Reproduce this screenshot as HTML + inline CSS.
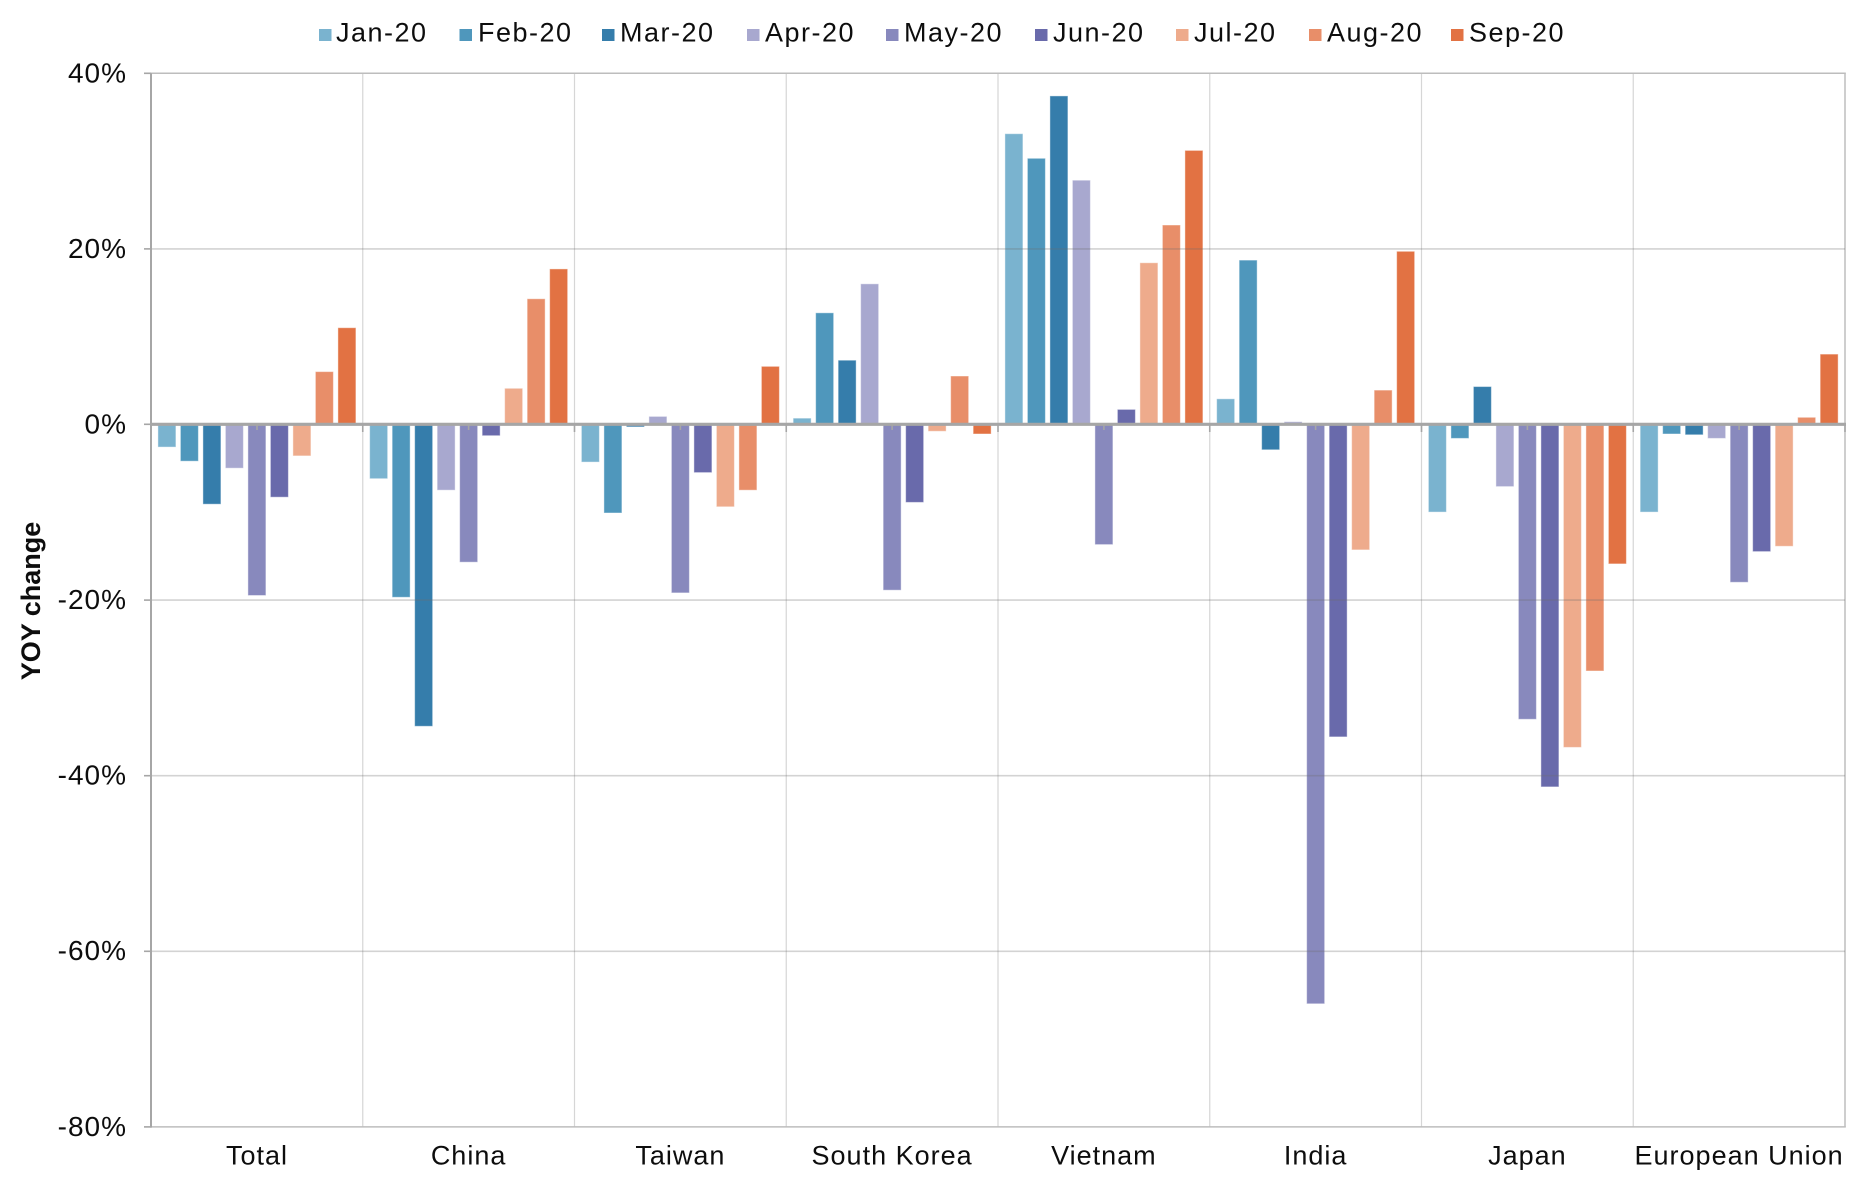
<!DOCTYPE html>
<html>
<head>
<meta charset="utf-8">
<style>
  html, body { margin:0; padding:0; background:#ffffff; }
  body { width:1870px; height:1188px; overflow:hidden; }
  svg { display:block; }
  text { font-family:"Liberation Sans", Arial, sans-serif; fill:#0d0d0d; }
  .lg { font-size:27px; letter-spacing:1.5px; }
  .yt { font-size:28px; letter-spacing:1px; }
  .xt { font-size:27px; letter-spacing:1px; }
  .ttl { font-size:27px; font-weight:bold; }
  rect.b { stroke:rgba(255,255,255,0.45); stroke-width:1; }
</style>
</head>
<body>
<svg width="1870" height="1188" viewBox="0 0 1870 1188" xmlns="http://www.w3.org/2000/svg">
  <rect x="0" y="0" width="1870" height="1188" fill="#ffffff"/>

  <!-- Legend -->
  <g>
    <rect x="319" y="29" width="12.5" height="12" fill="#7ab3cf"/><text class="lg" x="336" y="41.7">Jan-20</text>
    <rect x="459.5" y="29" width="12.5" height="12" fill="#4f97bc"/><text class="lg" x="478" y="41.7">Feb-20</text>
    <rect x="602" y="29" width="12.5" height="12" fill="#357dab"/><text class="lg" x="620" y="41.7">Mar-20</text>
    <rect x="747" y="29" width="12.5" height="12" fill="#a8a8cf"/><text class="lg" x="765" y="41.7">Apr-20</text>
    <rect x="886" y="29" width="12.5" height="12" fill="#8889bd"/><text class="lg" x="904" y="41.7">May-20</text>
    <rect x="1035" y="29" width="12.5" height="12" fill="#696aab"/><text class="lg" x="1053" y="41.7">Jun-20</text>
    <rect x="1176" y="29" width="12.5" height="12" fill="#eeab8c"/><text class="lg" x="1194" y="41.7">Jul-20</text>
    <rect x="1309" y="29" width="12.5" height="12" fill="#e88e69"/><text class="lg" x="1327" y="41.7">Aug-20</text>
    <rect x="1451" y="29" width="12.5" height="12" fill="#e27243"/><text class="lg" x="1469" y="41.7">Sep-20</text>
  </g>

  <!-- Vertical category gridlines -->
  <g stroke="#d6d6d6" stroke-width="1.2">
    <line x1="362.75" y1="73.3" x2="362.75" y2="1126.9"/>
    <line x1="574.5" y1="73.3" x2="574.5" y2="1126.9"/>
    <line x1="786.25" y1="73.3" x2="786.25" y2="1126.9"/>
    <line x1="998" y1="73.3" x2="998" y2="1126.9"/>
    <line x1="1209.75" y1="73.3" x2="1209.75" y2="1126.9"/>
    <line x1="1421.5" y1="73.3" x2="1421.5" y2="1126.9"/>
    <line x1="1633.25" y1="73.3" x2="1633.25" y2="1126.9"/>
  </g>
  <line x1="1845" y1="73.3" x2="1845" y2="1126.9" stroke="#bdbdbd" stroke-width="1.5"/>

  <!-- Bars -->
  <g>
    <!-- Total -->
    <rect class="b" x="157.9" y="424.3" width="18" height="22.8" fill="#7ab3cf"/>
    <rect class="b" x="180.4" y="424.3" width="18" height="36.9" fill="#4f97bc"/>
    <rect class="b" x="202.9" y="424.3" width="18" height="79.9" fill="#357dab"/>
    <rect class="b" x="225.4" y="424.3" width="18" height="43.9" fill="#a8a8cf"/>
    <rect class="b" x="247.9" y="424.3" width="18" height="171.2" fill="#8889bd"/>
    <rect class="b" x="270.4" y="424.3" width="18" height="72.9" fill="#696aab"/>
    <rect class="b" x="292.9" y="424.3" width="18" height="31.6" fill="#eeab8c"/>
    <rect class="b" x="315.4" y="371.6" width="18" height="52.7" fill="#e88e69"/>
    <rect class="b" x="337.9" y="327.7" width="18" height="96.6" fill="#e27243"/>
    <!-- China -->
    <rect class="b" x="369.65" y="424.3" width="18" height="54.4" fill="#7ab3cf"/>
    <rect class="b" x="392.15" y="424.3" width="18" height="173.0" fill="#4f97bc"/>
    <rect class="b" x="414.65" y="424.3" width="18" height="302.0" fill="#357dab"/>
    <rect class="b" x="437.15" y="424.3" width="18" height="65.9" fill="#a8a8cf"/>
    <rect class="b" x="459.65" y="424.3" width="18" height="137.9" fill="#8889bd"/>
    <rect class="b" x="482.15" y="424.3" width="18" height="11.4" fill="#696aab"/>
    <rect class="b" x="504.65" y="388.3" width="18" height="36.0" fill="#eeab8c"/>
    <rect class="b" x="527.15" y="298.75" width="18" height="125.55" fill="#e88e69"/>
    <rect class="b" x="549.65" y="268.9" width="18" height="155.4" fill="#e27243"/>
    <!-- Taiwan -->
    <rect class="b" x="581.4" y="424.3" width="18" height="37.8" fill="#7ab3cf"/>
    <rect class="b" x="603.9" y="424.3" width="18" height="88.7" fill="#4f97bc"/>
    <rect class="b" x="626.4" y="424.3" width="18" height="2.6" fill="#357dab"/>
    <rect class="b" x="648.9" y="416.4" width="18" height="7.9" fill="#a8a8cf"/>
    <rect class="b" x="671.4" y="424.3" width="18" height="168.6" fill="#8889bd"/>
    <rect class="b" x="693.9" y="424.3" width="18" height="48.3" fill="#696aab"/>
    <rect class="b" x="716.4" y="424.3" width="18" height="82.5" fill="#eeab8c"/>
    <rect class="b" x="738.9" y="424.3" width="18" height="65.9" fill="#e88e69"/>
    <rect class="b" x="761.4" y="366.35" width="18" height="57.95" fill="#e27243"/>
    <!-- South Korea -->
    <rect class="b" x="793.15" y="418.15" width="18" height="6.15" fill="#7ab3cf"/>
    <rect class="b" x="815.65" y="312.8" width="18" height="111.5" fill="#4f97bc"/>
    <rect class="b" x="838.15" y="360.2" width="18" height="64.1" fill="#357dab"/>
    <rect class="b" x="860.65" y="283.8" width="18" height="140.5" fill="#a8a8cf"/>
    <rect class="b" x="883.15" y="424.3" width="18" height="165.9" fill="#8889bd"/>
    <rect class="b" x="905.65" y="424.3" width="18" height="78.1" fill="#696aab"/>
    <rect class="b" x="928.15" y="424.3" width="18" height="7.0" fill="#eeab8c"/>
    <rect class="b" x="950.65" y="376.0" width="18" height="48.3" fill="#e88e69"/>
    <rect class="b" x="973.15" y="424.3" width="18" height="9.7" fill="#e27243"/>
    <!-- Vietnam -->
    <rect class="b" x="1004.9" y="133.7" width="18" height="290.6" fill="#7ab3cf"/>
    <rect class="b" x="1027.4" y="158.3" width="18" height="266.0" fill="#4f97bc"/>
    <rect class="b" x="1049.9" y="95.9" width="18" height="328.4" fill="#357dab"/>
    <rect class="b" x="1072.4" y="180.2" width="18" height="244.1" fill="#a8a8cf"/>
    <rect class="b" x="1094.9" y="424.3" width="18" height="120.3" fill="#8889bd"/>
    <rect class="b" x="1117.4" y="409.4" width="18" height="14.9" fill="#696aab"/>
    <rect class="b" x="1139.9" y="262.75" width="18" height="161.55" fill="#eeab8c"/>
    <rect class="b" x="1162.4" y="225.0" width="18" height="199.3" fill="#e88e69"/>
    <rect class="b" x="1184.9" y="150.4" width="18" height="273.9" fill="#e27243"/>
    <!-- India -->
    <rect class="b" x="1216.65" y="398.8" width="18" height="25.5" fill="#7ab3cf"/>
    <rect class="b" x="1239.15" y="260.1" width="18" height="164.2" fill="#4f97bc"/>
    <rect class="b" x="1261.65" y="424.3" width="18" height="25.5" fill="#357dab"/>
    <rect class="b" x="1284.15" y="421.7" width="18" height="2.6" fill="#a8a8cf"/>
    <rect class="b" x="1306.65" y="424.3" width="18" height="579.5" fill="#8889bd"/>
    <rect class="b" x="1329.15" y="424.3" width="18" height="312.6" fill="#696aab"/>
    <rect class="b" x="1351.65" y="424.3" width="18" height="125.6" fill="#eeab8c"/>
    <rect class="b" x="1374.15" y="390.1" width="18" height="34.2" fill="#e88e69"/>
    <rect class="b" x="1396.65" y="251.3" width="18" height="173.0" fill="#e27243"/>
    <!-- Japan -->
    <rect class="b" x="1428.4" y="424.3" width="18" height="87.8" fill="#7ab3cf"/>
    <rect class="b" x="1450.9" y="424.3" width="18" height="14.1" fill="#4f97bc"/>
    <rect class="b" x="1473.4" y="386.55" width="18" height="37.75" fill="#357dab"/>
    <rect class="b" x="1495.9" y="424.3" width="18" height="62.3" fill="#a8a8cf"/>
    <rect class="b" x="1518.4" y="424.3" width="18" height="295.0" fill="#8889bd"/>
    <rect class="b" x="1540.9" y="424.3" width="18" height="362.6" fill="#696aab"/>
    <rect class="b" x="1563.4" y="424.3" width="18" height="323.1" fill="#eeab8c"/>
    <rect class="b" x="1585.9" y="424.3" width="18" height="246.7" fill="#e88e69"/>
    <rect class="b" x="1608.4" y="424.3" width="18" height="139.6" fill="#e27243"/>
    <!-- European Union -->
    <rect class="b" x="1640.15" y="424.3" width="18" height="87.8" fill="#7ab3cf"/>
    <rect class="b" x="1662.65" y="424.3" width="18" height="9.7" fill="#4f97bc"/>
    <rect class="b" x="1685.15" y="424.3" width="18" height="10.5" fill="#357dab"/>
    <rect class="b" x="1707.65" y="424.3" width="18" height="14.1" fill="#a8a8cf"/>
    <rect class="b" x="1730.15" y="424.3" width="18" height="158.0" fill="#8889bd"/>
    <rect class="b" x="1752.65" y="424.3" width="18" height="127.3" fill="#696aab"/>
    <rect class="b" x="1775.15" y="424.3" width="18" height="122.0" fill="#eeab8c"/>
    <rect class="b" x="1797.65" y="417.3" width="18" height="7.0" fill="#e88e69"/>
    <rect class="b" x="1820.15" y="354.1" width="18" height="70.2" fill="#e27243"/>
  </g>

  <!-- Horizontal gridlines (drawn over bars, translucent) -->
  <g stroke="rgba(110,110,110,0.3)" stroke-width="1.6">
    <line x1="151" y1="248.9" x2="1845" y2="248.9"/>
    <line x1="151" y1="600.1" x2="1845" y2="600.1"/>
    <line x1="151" y1="775.7" x2="1845" y2="775.7"/>
    <line x1="151" y1="951.3" x2="1845" y2="951.3"/>
  </g>
  <line x1="151" y1="73.3" x2="1845.8" y2="73.3" stroke="#bdbdbd" stroke-width="1.5"/>
  <line x1="151" y1="1126.9" x2="1845.8" y2="1126.9" stroke="#bdbdbd" stroke-width="1.5"/>

  <!-- Left axis -->
  <line x1="151" y1="73.3" x2="151" y2="1127.6" stroke="#a6a6a6" stroke-width="2"/>
  <g stroke="#a6a6a6" stroke-width="1.6">
    <line x1="144" y1="73.3" x2="151" y2="73.3"/>
    <line x1="144" y1="248.9" x2="151" y2="248.9"/>
    <line x1="144" y1="424.3" x2="151" y2="424.3"/>
    <line x1="144" y1="600.1" x2="151" y2="600.1"/>
    <line x1="144" y1="775.7" x2="151" y2="775.7"/>
    <line x1="144" y1="951.3" x2="151" y2="951.3"/>
    <line x1="144" y1="1126.9" x2="151" y2="1126.9"/>
  </g>

  <!-- Zero axis -->
  <line x1="151" y1="424.3" x2="1846" y2="424.3" stroke="#a6a6a6" stroke-width="3.2"/>
  <g stroke="#a6a6a6" stroke-width="1.6">
    <line x1="151" y1="424" x2="151" y2="432"/>
    <line x1="257" y1="424" x2="257" y2="430"/>
    <line x1="362.75" y1="424" x2="362.75" y2="432"/>
    <line x1="468.6" y1="424" x2="468.6" y2="430"/>
    <line x1="574.5" y1="424" x2="574.5" y2="432"/>
    <line x1="680.4" y1="424" x2="680.4" y2="430"/>
    <line x1="786.25" y1="424" x2="786.25" y2="432"/>
    <line x1="892.1" y1="424" x2="892.1" y2="430"/>
    <line x1="998" y1="424" x2="998" y2="432"/>
    <line x1="1103.9" y1="424" x2="1103.9" y2="430"/>
    <line x1="1209.75" y1="424" x2="1209.75" y2="432"/>
    <line x1="1315.6" y1="424" x2="1315.6" y2="430"/>
    <line x1="1421.5" y1="424" x2="1421.5" y2="432"/>
    <line x1="1527.4" y1="424" x2="1527.4" y2="430"/>
    <line x1="1633.25" y1="424" x2="1633.25" y2="432"/>
    <line x1="1739.1" y1="424" x2="1739.1" y2="430"/>
    <line x1="1845" y1="424" x2="1845" y2="432"/>
  </g>

  <!-- Y tick labels -->
  <g text-anchor="end">
    <text class="yt" x="127" y="82.5">40%</text>
    <text class="yt" x="127" y="258">20%</text>
    <text class="yt" x="127" y="433.5">0%</text>
    <text class="yt" x="127" y="609">-20%</text>
    <text class="yt" x="127" y="784.5">-40%</text>
    <text class="yt" x="127" y="960">-60%</text>
    <text class="yt" x="127" y="1136">-80%</text>
  </g>

  <!-- Y axis title -->
  <text class="ttl" x="40" y="601" text-anchor="middle" transform="rotate(-90 40 601)">YOY change</text>

  <!-- Category labels -->
  <g text-anchor="middle">
    <text class="xt" x="257" y="1164.3">Total</text>
    <text class="xt" x="468.6" y="1164.3">China</text>
    <text class="xt" x="680.4" y="1164.3">Taiwan</text>
    <text class="xt" x="892.1" y="1164.3">South Korea</text>
    <text class="xt" x="1103.9" y="1164.3">Vietnam</text>
    <text class="xt" x="1315.6" y="1164.3">India</text>
    <text class="xt" x="1527.4" y="1164.3">Japan</text>
    <text class="xt" x="1739.1" y="1164.3">European Union</text>
  </g>
</svg>
</body>
</html>
